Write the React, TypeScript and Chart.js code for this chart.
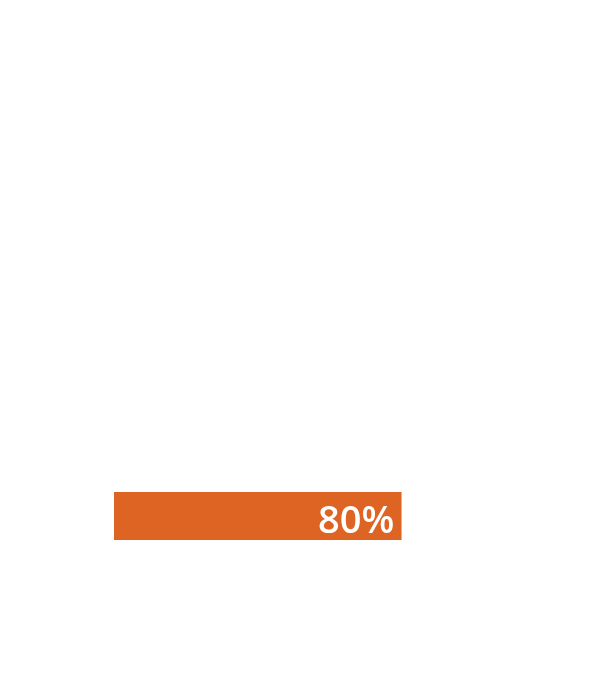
import { Chart, registerables, type ChartConfiguration, type Plugin } from "chart.js";
import { useEffect, useRef } from "react";

Chart.register(...registerables);

const categories = ["Share"];
const values = [80];
const valueLabels = ["80%"];

const barColor = "#dd6423";

const insideLabels: Plugin<"bar"> = {
  id: "insideLabels",
  afterDatasetsDraw(chart) {
    const { ctx } = chart;
    const meta = chart.getDatasetMeta(0);
    ctx.save();
    ctx.fillStyle = "#ffffff";
    ctx.font = "600 38px 'Open Sans', sans-serif";
    ctx.textAlign = "right";
    ctx.textBaseline = "alphabetic";
    meta.data.forEach((bar, i) => {
      const { x, y } = bar.getProps(["x", "y"], true);
      ctx.fillText(valueLabels[i], x - 7, y + 17);
    });
    ctx.restore();
  },
};

function getConfig(): ChartConfiguration<"bar"> {
  return {
    type: "bar",
    data: {
      labels: categories,
      datasets: [
        {
          label: "Share",
          data: values,
          backgroundColor: barColor,
          borderWidth: 0,
          barPercentage: 1,
          categoryPercentage: 1,
        },
      ],
    },
    options: {
      indexAxis: "y",
      animation: false,
      responsive: true,
      maintainAspectRatio: false,
      layout: {
        padding: { top: 492, bottom: 140, left: 114, right: 132 },
      },
      plugins: {
        legend: { display: false },
        tooltip: { enabled: false },
      },
      scales: {
        x: { display: false, min: 0, max: 100 },
        y: { display: false },
      },
    },
    plugins: [insideLabels],
  };
}

export default function App() {
  const canvasRef = useRef<HTMLCanvasElement>(null);

  useEffect(() => {
    if (!canvasRef.current) {
      return;
    }
    const chart = new Chart(canvasRef.current, getConfig());
    return () => {
      chart.destroy();
    };
  }, []);

  return (
    <div style={{ position: "fixed", left: 0, top: 0, width: 605, height: 680, background: "#ffffff" }}>
      <canvas ref={canvasRef} />
    </div>
  );
}
